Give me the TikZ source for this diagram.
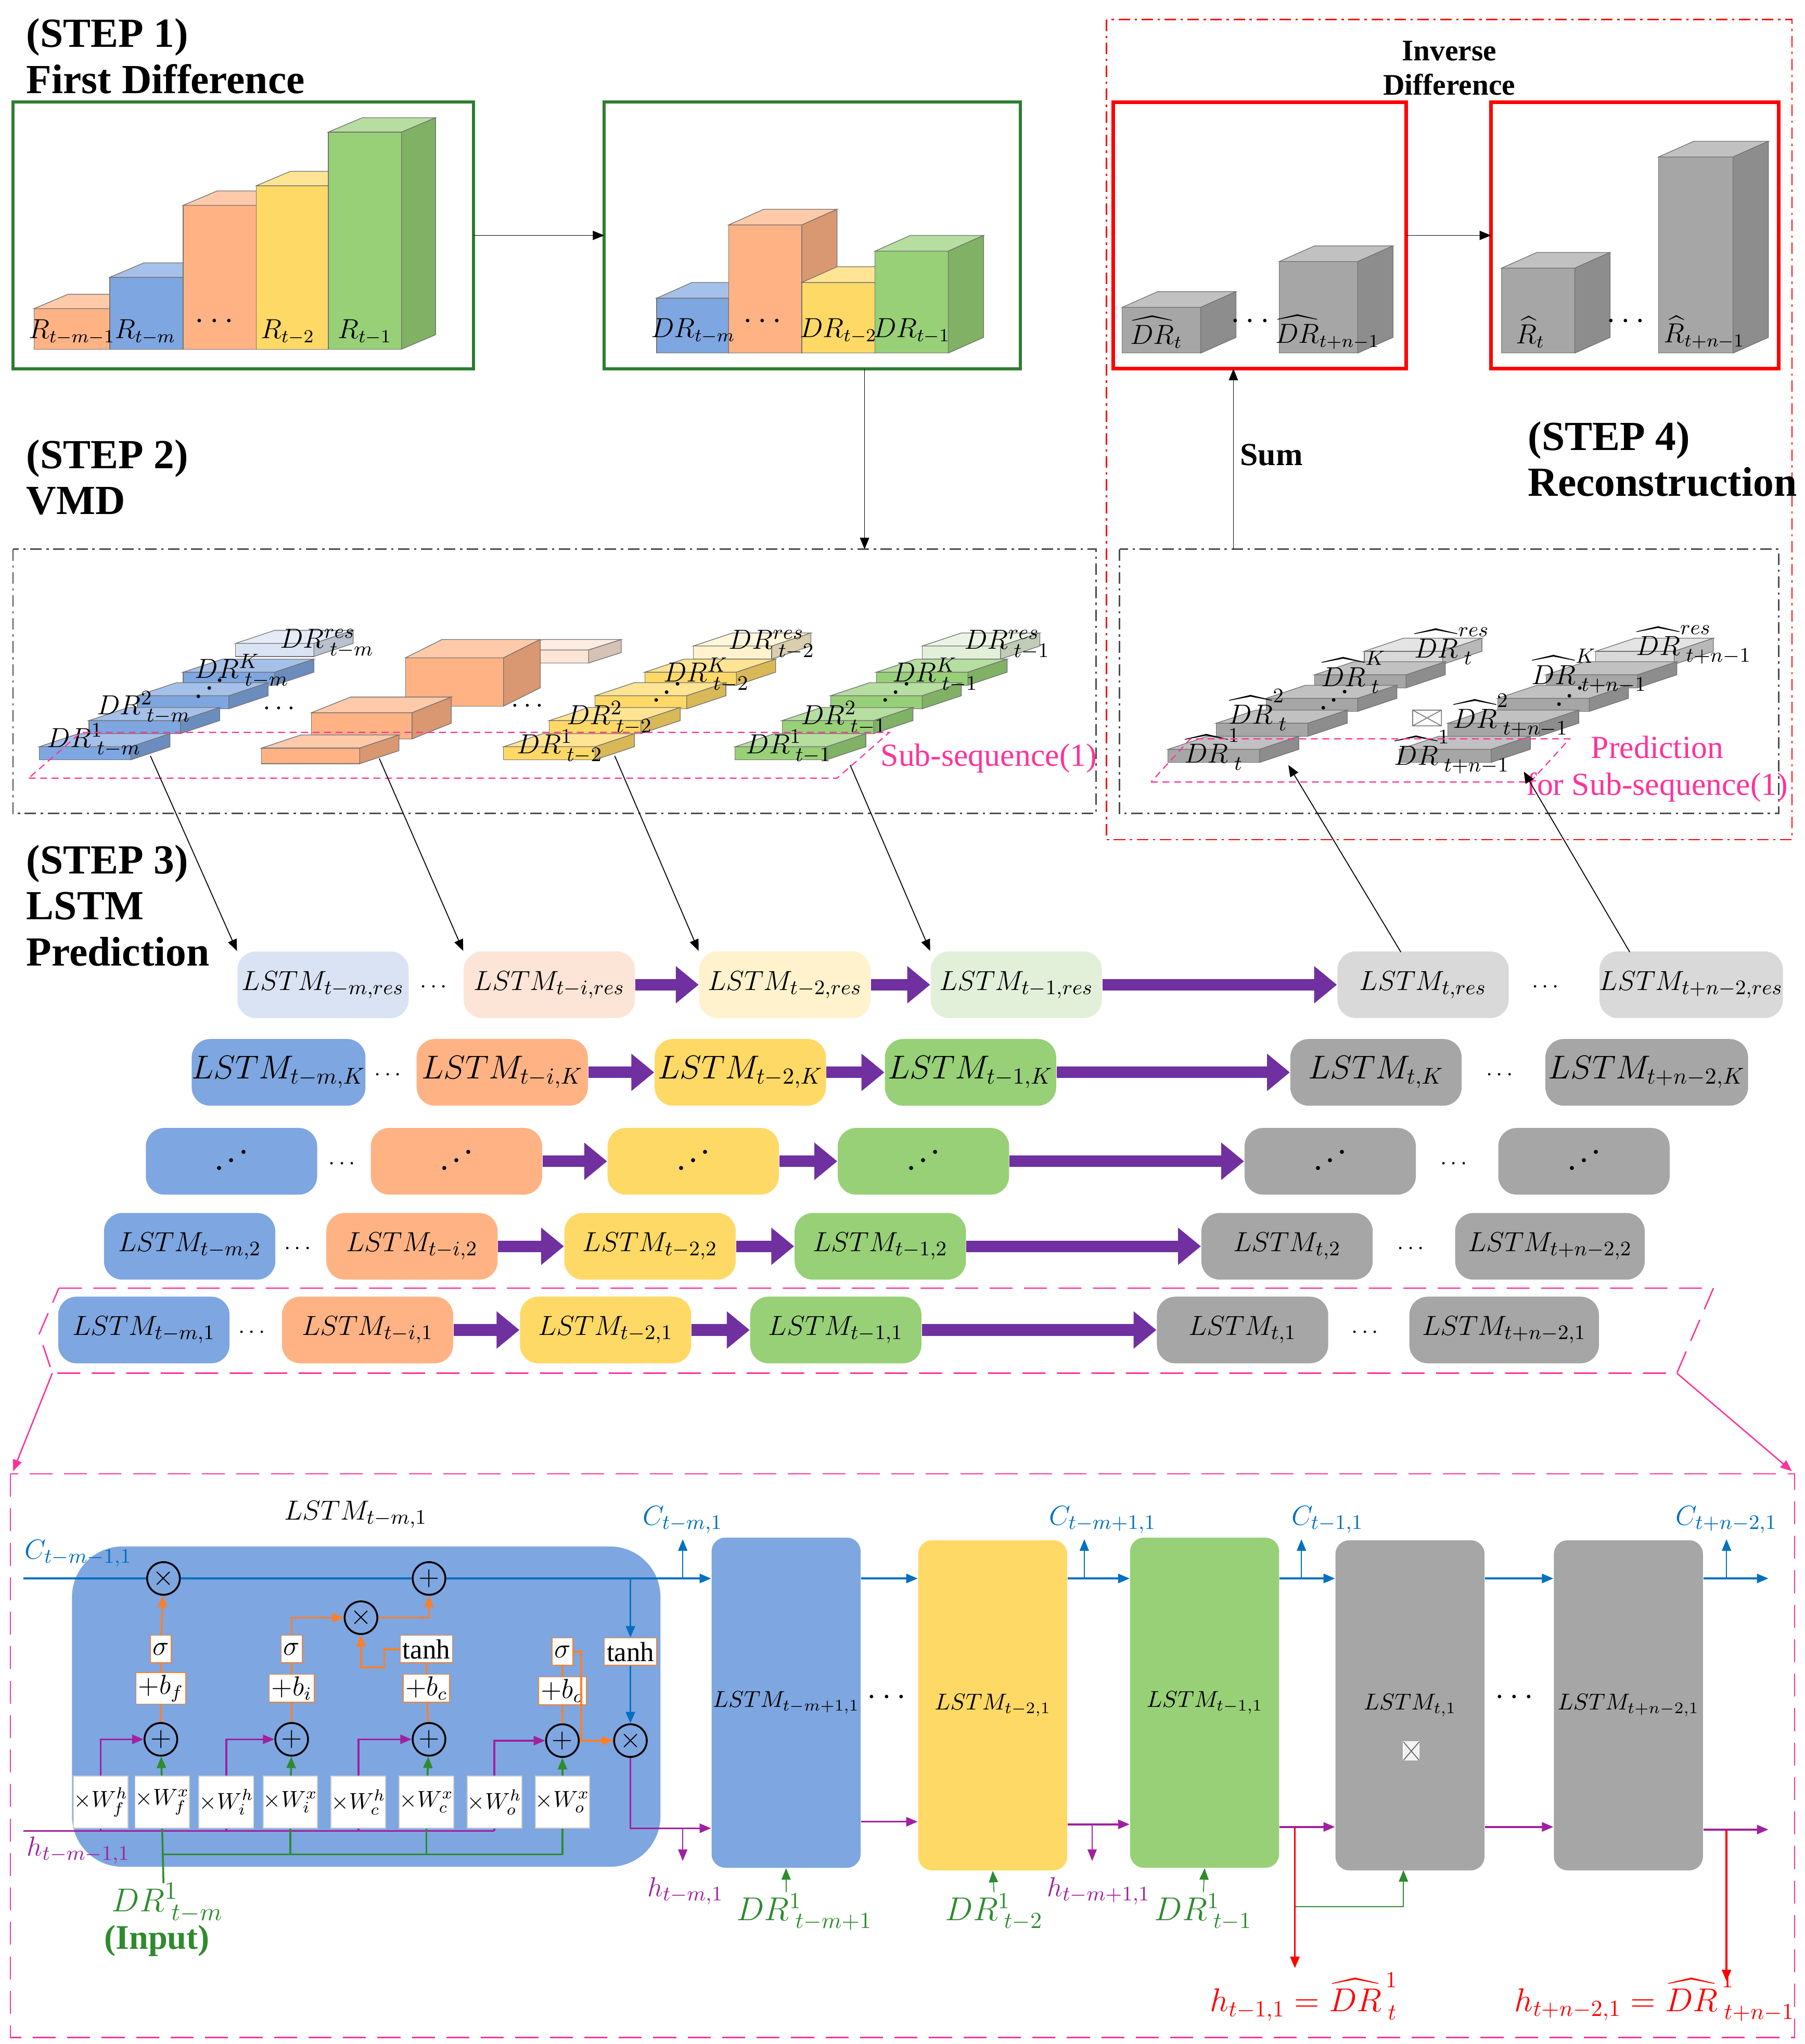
\documentclass[tikz,border=0pt]{standalone}
\usepackage{amsmath,amssymb}
\usepackage{fontspec}
\setmainfont{Liberation Serif}
\usetikzlibrary{arrows.meta}
\definecolor{cBl}{HTML}{7EA6E0}
\definecolor{cOr}{HTML}{FFB385}
\definecolor{cYe}{HTML}{FFD966}
\definecolor{cGr}{HTML}{97D077}
\definecolor{cGy}{HTML}{A6A6A6}
\definecolor{cBlL}{HTML}{DAE3F3}
\definecolor{cOrL}{HTML}{FCE4D6}
\definecolor{cYeL}{HTML}{FFF2CC}
\definecolor{cGrL}{HTML}{E2F0D9}
\definecolor{cGyL}{HTML}{D9D9D9}
\definecolor{cPu}{HTML}{7030A0}
\definecolor{cPk}{HTML}{FF3399}
\definecolor{cDG}{HTML}{2E7D32}
\definecolor{cCB}{HTML}{0070C0}
\definecolor{cHP}{HTML}{A020A0}
\definecolor{cOa}{HTML}{FF7F27}
\definecolor{cIG}{HTML}{2E8B2E}
\newcommand\myid{\mathinner{\mkern1mu\raise1pt\hbox{.}\mkern2mu\raise4.5pt\hbox{.}\mkern2mu\raise8pt\hbox{.}\mkern1mu}}
\newcommand\mycube[7]{%
 \path[fill=#7,draw=black!55,line width=0.3pt] (#1,#3) rectangle (#2,#4);
 \path[fill=#7!70!white,draw=black!55,line width=0.3pt] (#1,#3)--({#1+#5},{#3-#6})--({#2+#5},{#3-#6})--(#2,#3)--cycle;
 \path[fill=#7!85!black,draw=black!55,line width=0.3pt] (#2,#3)--({#2+#5},{#3-#6})--({#2+#5},{#4-#6})--(#2,#4)--cycle;}
\newcommand\myslab[4]{\mycube{#1}{#1+#3}{#2}{#2+10}{30}{10}{#4}}
\begin{document}
\begin{tikzpicture}[x=0.02cm,y=-0.02cm,
 stp/.style={anchor=north west,align=left,font=\fontsize{18}{20}\selectfont\bfseries},
 ddt/.style={dash pattern=on 5pt off 2pt on 1pt off 2pt,line width=0.6pt},
 lstm/.style={rounded corners=8pt,minimum width=2.62cm,minimum height=1.02cm,inner sep=0pt,font=\fontsize{13}{15}\selectfont},
 lstmK/.style={lstm,font=\fontsize{14.5}{17}\selectfont},
 parr/.style={draw=cPu,line width=5pt,-{Triangle[length=0.35cm,width=0.55cm]}},
 lab/.style={font=\fontsize{12}{14}\selectfont,inner sep=0pt},
 slab/.style={font=\fontsize{13}{15}\selectfont,inner sep=0pt},
 op/.style={circle,draw,line width=0.8pt,minimum size=0.5cm,inner sep=0pt,font=\large},
 sb/.style={draw=cOa,fill=white,inner sep=1pt,minimum height=0.42cm,font=\fontsize{12}{13}\selectfont},
 wb/.style={draw=white!80!black,fill=white,inner sep=0pt,minimum width=0.6cm,minimum height=0.8cm,font=\fontsize{10}{11}\selectfont},
 lcell/.style={rounded corners=6pt,minimum width=2.28cm,minimum height=5.05cm,inner sep=0pt,font=\fontsize{10}{12}\selectfont},
 ar/.style={-{Triangle[length=5pt,width=4pt]}}]
\useasboundingbox (0,0) rectangle (1380,1563);
% ---------- STEP 1
\node[stp] (s1) at (14,8) {(STEP 1)\\First Difference};
\draw[cDG,line width=1.4pt] (10,78) rectangle (362,282);
\coordinate (b1r) at (362,180);
\mycube{26}{84}{236}{267}{26}{11}{cOr}
\mycube{84}{140}{212}{267}{26}{11}{cBl}
\mycube{140}{196}{157}{267}{26}{11}{cOr}
\mycube{196}{251}{142}{267}{26}{11}{cYe}
\mycube{251}{307}{101}{267}{26}{11}{cGr}
\node[lab] at (55,254) {$R_{t-m-1}$};
\node[lab] at (111,254) {$R_{t-m}$};
\node[font=\Large] at (166,246) {$\cdots$};
\node[lab] at (220,254) {$R_{t-2}$};
\node[lab] at (279,254) {$R_{t-1}$};
\draw[cDG,line width=1.4pt] (462,78) rectangle (780,282);
\coordinate (b2l) at (462,180);
\coordinate (b2b) at (661,282);
\mycube{502}{557}{228}{270}{27}{12}{cBl}
\mycube{557}{613}{172}{270}{27}{12}{cOr}
\mycube{613}{669}{216}{270}{27}{12}{cYe}
\mycube{669}{725}{192}{270}{27}{12}{cGr}
\node[lab] at (530,253) {$DR_{t-m}$};
\node[font=\Large] at (585,246) {$\cdots$};
\node[lab] at (641,253) {$DR_{t-2}$};
\node[lab] at (697,253) {$DR_{t-1}$};
\draw[ar] (b1r) -- (b2l);
% ---------- STEP 4
\draw[red,ddt] (846,15) rectangle (1370,642);
\node[font=\fontsize{13}{15}\selectfont\bfseries,align=center] (inv) at (1108,52) {Inverse\\Difference};
\draw[red,line width=1.6pt] (851,78) rectangle (1075,282);
\draw[red,line width=1.6pt] (1140,78) rectangle (1360,282);
\coordinate (r1r) at (1075,180); \coordinate (r2l) at (1140,180);
\draw[ar] (r1r) -- (r2l);
\mycube{858}{918}{235}{270}{27}{12}{cGy}
\mycube{978}{1038}{200}{270}{27}{12}{cGy}
\mycube{1148}{1204}{205}{270}{27}{12}{cGy}
\mycube{1268}{1325}{120}{270}{27}{12}{cGy}
\node[lab] at (884,254) {$\widehat{DR}_t$};
\node[font=\Large] at (958,246) {$\cdots$};
\node[lab] at (1015,254) {$\widehat{DR}_{t+n-1}$};
\node[lab] at (1170,254) {$\widehat{R}_t$};
\node[font=\Large] at (1245,246) {$\cdots$};
\node[lab] at (1303,254) {$\widehat{R}_{t+n-1}$};
\node[stp] (s4) at (1162,316) {(STEP 4)\\Reconstruction};
\draw[ddt,black!70] (856,420) rectangle (1360,622);
\coordinate (sumb) at (943,420); \coordinate (sumt) at (943,282);
\draw[ar] (sumb) -- (sumt);
\node[font=\fontsize{14}{16}\selectfont\bfseries] (sum) at (972,348) {Sum};
% ---------- STEP 2
\node[stp] (s2) at (14,330) {(STEP 2)\\VMD};
\draw[ddt,black!70] (10,420) rectangle (838,622);
\coordinate (vt) at (661,420);
\draw[ar] (b2b) -- (vt);
% blue
\myslab{180}{492}{60}{cBlL}
\myslab{140}{514}{70}{cBl}
\myslab{105}{532}{70}{cBl}
\myslab{68}{551}{70}{cBl}
\myslab{30}{571}{70}{cBl}
% orange
\mycube{390}{450}{497}{507}{25}{8}{cOrL}
\mycube{310}{385}{503}{540}{28}{14}{cOr}
\mycube{238}{315}{545}{565}{30}{12}{cOr}
\mycube{200}{275}{572}{584}{30}{10}{cOr}
% yellow
\myslab{530}{494}{60}{cYeL}
\myslab{493}{514}{70}{cYe}
\myslab{455}{532}{70}{cYe}
\myslab{420}{551}{70}{cYe}
\myslab{385}{571}{70}{cYe}
% green
\myslab{705}{494}{60}{cGrL}
\myslab{670}{514}{70}{cGr}
\myslab{635}{532}{70}{cGr}
\myslab{598}{551}{70}{cGr}
\myslab{562}{571}{70}{cGr}
% gray
\myslab{1043}{498}{60}{cGyL}
\myslab{1005}{516}{70}{cGy}
\myslab{968}{534}{70}{cGy}
\myslab{930}{553}{70}{cGy}
\myslab{893}{573}{70}{cGy}
\myslab{1220}{498}{60}{cGyL}
\myslab{1182}{516}{70}{cGy}
\myslab{1145}{534}{70}{cGy}
\myslab{1107}{553}{70}{cGy}
\myslab{1070}{573}{70}{cGy}
\draw[black!50] (1080,543) rectangle (1102,555) (1080,543)--(1102,555) (1080,555)--(1102,543);
% VMD labels
\node[slab] at (72,566) {$DR^{1}_{\;t-m}$};
\node[slab] at (110,541) {$DR^{2}_{\;t-m}$};
\node[slab] at (160,527) {$\myid$};
\node[slab] at (185,513) {$DR^{K}_{\;t-m}$};
\node[slab] at (250,492) {$DR^{res}_{\;t-m}$};
\node[font=\large] at (215,542) {$\cdots$};
\node[font=\large] at (405,540) {$\cdots$};
\node[slab] at (428,571) {$DR^{1}_{\;t-2}$};
\node[slab] at (466,549) {$DR^{2}_{\;t-2}$};
\node[slab] at (510,530) {$\myid$};
\node[slab] at (540,516) {$DR^{K}_{\;t-2}$};
\node[slab] at (590,493) {$DR^{res}_{\;t-2}$};
\node[slab] at (603,571) {$DR^{1}_{\;t-1}$};
\node[slab] at (645,549) {$DR^{2}_{\;t-1}$};
\node[slab] at (685,530) {$\myid$};
\node[slab] at (715,516) {$DR^{K}_{\;t-1}$};
\node[slab] at (770,493) {$DR^{res}_{\;t-1}$};
\node[slab] at (928,573) {$\widehat{DR}^{1}_{\;t}$};
\node[slab] at (962,543) {$\widehat{DR}^{2}_{\;t}$};
\node[slab] at (1020,536) {$\myid$};
\node[slab] at (1035,514) {$\widehat{DR}^{K}_{\;t}$};
\node[slab] at (1110,494) {$\widehat{DR}^{res}_{\;t}$};
\node[slab] at (1110,575) {$\widehat{DR}^{1}_{\;t+n-1}$};
\node[slab] at (1155,547) {$\widehat{DR}^{2}_{\;t+n-1}$};
\node[slab] at (1200,533) {$\myid$};
\node[slab] at (1215,513) {$\widehat{DR}^{K}_{\;t+n-1}$};
\node[slab] at (1295,493) {$\widehat{DR}^{res}_{\;t+n-1}$};
\draw[cPk,densely dashed,line width=0.5pt] (22,595)--(640,595)--(680,560)--(62,560)--cycle;
\node[text=cPk,font=\fontsize{14}{16}\selectfont] (subs) at (756,580) {Sub-sequence(1)};
\draw[cPk,densely dashed,line width=0.5pt] (880,598)--(1170,598)--(1200,565)--(910,565)--cycle;
\node[text=cPk,font=\fontsize{14}{16}\selectfont,align=center] (pred) at (1267,588) {Prediction\\for Sub-sequence(1)};
% ---------- STEP 3
\node[stp] (s3) at (14,640) {(STEP 3)\\LSTM\\Prediction};
% row res
\node[lstm,fill=cBlL] (ra) at (247,753) {$LSTM_{t-m,res}$};
\node[lstm,fill=cOrL] (rb) at (420,753) {$LSTM_{t-i,res}$};
\node[lstm,fill=cYeL] (rc) at (600,753) {$LSTM_{t-2,res}$};
\node[lstm,fill=cGrL] (rd) at (777,753) {$LSTM_{t-1,res}$};
\node[lstm,fill=cGyL] (re) at (1088,753) {$LSTM_{t,res}$};
\node[lstm,fill=cGyL] (rf) at (1293,753) {$LSTM_{t+n-2,res}$};
\node at (333,755) {$\cdots$}; \node at (1183,755) {$\cdots$};
\draw[parr] (rb) -- (rc); \draw[parr] (rc) -- (rd); \draw[parr] (rd) -- (re);
% row K
\node[lstmK,fill=cBl] (ka) at (213,820) {$LSTM_{t-m,K}$};
\node[lstmK,fill=cOr] (kb) at (384,820) {$LSTM_{t-i,K}$};
\node[lstmK,fill=cYe] (kc) at (566,820) {$LSTM_{t-2,K}$};
\node[lstmK,fill=cGr] (kd) at (742,820) {$LSTM_{t-1,K}$};
\node[lstmK,fill=cGy] (ke) at (1052,820) {$LSTM_{t,K}$};
\node[lstmK,fill=cGy,minimum width=3.1cm] (kf) at (1259,820) {$LSTM_{t+n-2,K}$};
\node at (298,822) {$\cdots$}; \node at (1148,822) {$\cdots$};
\draw[parr] (kb) -- (kc); \draw[parr] (kc) -- (kd); \draw[parr] (kd) -- (ke);
% row dots
\node[lstmK,fill=cBl] (da) at (177,888) {$\myid$};
\node[lstmK,fill=cOr] (db) at (349,888) {$\myid$};
\node[lstmK,fill=cYe] (dc) at (530,888) {$\myid$};
\node[lstmK,fill=cGr] (dd) at (706,888) {$\myid$};
\node[lstmK,fill=cGy] (de) at (1017,888) {$\myid$};
\node[lstmK,fill=cGy] (df) at (1211,888) {$\myid$};
\node at (263,890) {$\cdots$}; \node at (1113,890) {$\cdots$};
\draw[parr] (db) -- (dc); \draw[parr] (dc) -- (dd); \draw[parr] (dd) -- (de);
% row 2
\node[lstm,fill=cBl] (ta) at (145,953) {$LSTM_{t-m,2}$};
\node[lstm,fill=cOr] (tb) at (315,953) {$LSTM_{t-i,2}$};
\node[lstm,fill=cYe] (tc) at (497,953) {$LSTM_{t-2,2}$};
\node[lstm,fill=cGr] (td) at (673,953) {$LSTM_{t-1,2}$};
\node[lstm,fill=cGy] (te) at (984,953) {$LSTM_{t,2}$};
\node[lstm,fill=cGy,minimum width=2.9cm] (tf) at (1185,953) {$LSTM_{t+n-2,2}$};
\node at (229,955) {$\cdots$}; \node at (1080,955) {$\cdots$};
\draw[parr] (tb) -- (tc); \draw[parr] (tc) -- (td); \draw[parr] (td) -- (te);
% row 1
\node[lstm,fill=cBl] (oa) at (110,1017) {$LSTM_{t-m,1}$};
\node[lstm,fill=cOr] (ob) at (281,1017) {$LSTM_{t-i,1}$};
\node[lstm,fill=cYe] (oc) at (463,1017) {$LSTM_{t-2,1}$};
\node[lstm,fill=cGr] (od) at (639,1017) {$LSTM_{t-1,1}$};
\node[lstm,fill=cGy] (oe) at (950,1017) {$LSTM_{t,1}$};
\node[lstm,fill=cGy,minimum width=2.9cm] (of) at (1150,1017) {$LSTM_{t+n-2,1}$};
\node at (194,1019) {$\cdots$}; \node at (1045,1019) {$\cdots$};
\draw[parr] (ob) -- (oc); \draw[parr] (oc) -- (od); \draw[parr] (od) -- (oe);
% VMD -> LSTM arrows
\coordinate (v1) at (115,578); \coordinate (v2) at (290,580);
\coordinate (v3) at (470,578); \coordinate (v4) at (650,585);
\coordinate (p1) at (985,585); \coordinate (p2) at (1165,590);
\coordinate (q1) at (1071,728); \coordinate (q2) at (1246,728);
\draw[ar] (v1) -- (ra.north west); \draw[ar] (v2) -- (rb.north west);
\draw[ar] (v3) -- (rc.north west); \draw[ar] (v4) -- (rd.north west);
\draw[ar] (q1) -- (p1);
\draw[ar] (q2) -- (p2);
% pink zoom frame
\draw[cPk,dash pattern=on 10pt off 5pt,line width=0.6pt] (45,985)--(1310,985)--(1282,1050)--(40,1050)--(30,1020)--cycle;
\draw[cPk,line width=0.6pt,ar] (40,1050)--(10,1125);
\draw[cPk,line width=0.6pt,ar] (1282,1050)--(1370,1125);
\draw[cPk,dash pattern=on 10pt off 5pt,line width=0.6pt] (8,1127) rectangle (1372,1558);
% ---------- bottom detail
\node[fill=cBl,rounded corners=22pt,minimum width=9.0cm,minimum height=4.9cm] (big) at (280,1305) {};
\node[font=\fontsize{13}{15}\selectfont] (bigl) at (272,1158) {$LSTM_{t-m,1}$};
\node[lcell,fill=cBl] (c2) at (601,1302) {$LSTM_{t-m+1,1}$};
\node[lcell,fill=cYe] (c3) at (759,1304) {$LSTM_{t-2,1}$};
\node[lcell,fill=cGr] (c4) at (921,1302) {$LSTM_{t-1,1}$};
\node[lcell,fill=cGy] (c5) at (1078,1304) {$LSTM_{t,1}$};
\node[lcell,fill=cGy] (c6) at (1245,1304) {$LSTM_{t+n-2,1}$};
\node[font=\Large] at (680,1298) {$\cdots$};
\node[font=\Large] at (1160,1298) {$\cdots$};
\draw[white,fill=white!90!gray] (1073,1332) rectangle (1085,1346);
\draw[black!60] (1073,1332)--(1085,1346) (1073,1346)--(1085,1332);
% cell internals
\node[op] (mf) at (125,1207) {$\times$};
\node[op] (pc) at (328,1207) {$+$};
\node[op] (mi) at (276,1237) {$\times$};
\node[sb] (sf) at (123,1261) {$\sigma$};
\node[sb] (si) at (223,1261) {$\sigma$};
\node[sb] (tc1) at (326,1261) {tanh};
\node[sb] (so) at (430,1263) {$\sigma$};
\node[sb] (th2) at (482,1263) {tanh};
\node[sb] (bf) at (123,1291) {$+b_f$};
\node[sb] (bi) at (223,1291) {$+b_i$};
\node[sb] (bc) at (326,1291) {$+b_c$};
\node[sb] (bo) at (430,1293) {$+b_o$};
\node[op] (af) at (123,1330) {$+$};
\node[op] (ai) at (223,1330) {$+$};
\node[op] (ac) at (328,1330) {$+$};
\node[op] (ao) at (430,1331) {$+$};
\node[op] (mo) at (482,1331) {$\times$};
\node[wb] (whf) at (77,1378) {$\times W_f^h$};
\node[wb] (wxf) at (124,1378) {$\times W_f^x$};
\node[wb] (whi) at (173,1378) {$\times W_i^h$};
\node[wb] (wxi) at (222,1378) {$\times W_i^x$};
\node[wb] (whc) at (274,1378) {$\times W_c^h$};
\node[wb] (wxc) at (326,1378) {$\times W_c^x$};
\node[wb] (who) at (378,1378) {$\times W_o^h$};
\node[wb] (wxo) at (430,1378) {$\times W_o^x$};
% C line
\coordinate (cin) at (18,1207);
\draw[cCB,line width=1pt] (cin) -- (mf) -- (pc);
\draw[cCB,line width=0.9pt,ar] (pc) -- (c2.west |- pc);
\draw[cCB,line width=0.8pt,ar] (482,1207) -- (th2);
\draw[cCB,line width=0.8pt,ar] (th2) -- (mo);
\draw[cCB,line width=0.8pt,ar] (c2.east |- pc) -- (c3.west |- pc);
\draw[cCB,line width=0.8pt,ar] (c3.east |- pc) -- (c4.west |- pc);
\draw[cCB,line width=0.8pt,ar] (c4.east |- pc) -- (c5.west |- pc);
\draw[cCB,line width=0.8pt,ar] (c5.east |- pc) -- (c6.west |- pc);
\draw[cCB,line width=0.8pt,ar] (c6.east |- pc) -- (1352,1207);
\coordinate (co1) at (522,1177); \coordinate (co2) at (829,1177);
\coordinate (co3) at (995,1177); \coordinate (co4) at (1320,1177);
\draw[cCB,ar] (522,1207) -- (co1); \draw[cCB,ar] (829,1207) -- (co2);
\draw[cCB,ar] (995,1207) -- (co3); \draw[cCB,ar] (1320,1207) -- (co4);
\node[text=cCB,font=\fontsize{13}{15}\selectfont] at (60,1188) {$C_{t-m-1,1}$};
\node[text=cCB,font=\fontsize{13}{15}\selectfont] at (522,1162) {$C_{t-m,1}$};
\node[text=cCB,font=\fontsize{13}{15}\selectfont] at (843,1162) {$C_{t-m+1,1}$};
\node[text=cCB,font=\fontsize{13}{15}\selectfont] at (1015,1162) {$C_{t-1,1}$};
\node[text=cCB,font=\fontsize{13}{15}\selectfont] at (1320,1162) {$C_{t+n-2,1}$};
% orange
\draw[cOa,line width=0.8pt] (af)--(bf) (bf)--(sf) (ai)--(bi) (bi)--(si) (ac)--(bc) (bc)--(tc1) (ao)--(bo) (bo)--(so);
\draw[cOa,line width=0.8pt,ar] (sf) -- (mf);
\draw[cOa,line width=0.8pt,ar] (si.north) |- (mi.west);
\draw[cOa,line width=0.8pt,ar] (tc1.west) -- ++(-12,0) |- ++(-15,14) -| (mi.south);
\draw[cOa,line width=0.8pt,ar] (mi.east) -| (pc.south);
\draw[cOa,line width=0.8pt,ar] (so.east) -- ++(6,0) |- (mo.west);
% purple h
\coordinate (hin) at (18,1400);
\draw[cHP,line width=0.8pt] (hin) -- (378,1400);
\draw[cHP,line width=0.8pt] (77,1400)--(whf.south) (173,1400)--(whi.south) (274,1400)--(whc.south) (378,1400)--(who.south);
\draw[cHP,line width=0.8pt,ar] (whf.north) |- (af.west);
\draw[cHP,line width=0.8pt,ar] (whi.north) |- (ai.west);
\draw[cHP,line width=0.8pt,ar] (whc.north) |- (ac.west);
\draw[cHP,line width=0.8pt,ar] (who.north) |- (ao.west);
\draw[cHP,line width=0.8pt,ar] (mo.south) |- (c2.west |- 0,1398);
\draw[cHP,line width=0.8pt,ar] (c2.east |- 0,1393) -- (c3.west |- 0,1393);
\draw[cHP,line width=0.8pt,ar] (c3.east |- 0,1395) -- (c4.west |- 0,1395);
\draw[cHP,line width=0.8pt,ar] (c4.east |- 0,1397) -- (c5.west |- 0,1397);
\draw[cHP,line width=0.8pt,ar] (c5.east |- 0,1397) -- (c6.west |- 0,1397);
\draw[cHP,line width=0.8pt,ar] (c6.east |- 0,1399) -- (1352,1399);
\coordinate (ho1) at (522,1423); \coordinate (ho2) at (835,1423);
\draw[cHP,ar] (522,1398) -- (ho1); \draw[cHP,ar] (835,1395) -- (ho2);
\node[text=cHP,font=\fontsize{13}{15}\selectfont] at (60,1415) {$h_{t-m-1,1}$};
\node[text=cHP,font=\fontsize{13}{15}\selectfont] at (524,1446) {$h_{t-m,1}$};
\node[text=cHP,font=\fontsize{13}{15}\selectfont] at (840,1446) {$h_{t-m+1,1}$};
% green inputs
\node[text=cIG,font=\fontsize{15}{17}\selectfont] (in1) at (128,1455) {$DR^{1}_{\;t-m}$};
\node[text=cIG,font=\fontsize{15}{17}\selectfont\bfseries] (inl) at (120,1484) {(Input)};
\draw[cIG,line width=0.8pt] (125,1440) -- (wxf.south);
\draw[cIG,line width=0.8pt] (125,1418) -- (430,1418);
\draw[cIG,line width=0.8pt] (222,1418)--(wxi.south) (326,1418)--(wxc.south) (430,1418)--(wxo.south);
\draw[cIG,line width=0.8pt,ar] (wxf) -- (af); \draw[cIG,line width=0.8pt,ar] (wxi) -- (ai);
\draw[cIG,line width=0.8pt,ar] (wxc) -- (ac); \draw[cIG,line width=0.8pt,ar] (wxo) -- (ao);
\node[text=cIG,font=\fontsize{14}{16}\selectfont] (in2) at (615,1462) {$DR^{1}_{\;t-m+1}$};
\node[text=cIG,font=\fontsize{14}{16}\selectfont] (in3) at (760,1462) {$DR^{1}_{\;t-2}$};
\node[text=cIG,font=\fontsize{14}{16}\selectfont] (in4) at (920,1462) {$DR^{1}_{\;t-1}$};
\draw[cIG,ar] (601,1447) -- (c2.south); \draw[cIG,ar] (760,1447) -- (c3.south);
\draw[cIG,ar] (920,1447) -- (c4.south);
\coordinate (gin) at (1073,1430);
\draw[cIG,ar] (990,1397) -- (990,1458) -| (gin);
% red outputs
\coordinate (ro1) at (990,1505); \coordinate (ro2) at (1320,1515);
\draw[red,line width=0.8pt,ar] (990,1397) -- (ro1);
\draw[red,line width=0.8pt,ar] (1320,1399) -- (ro2);
\node[text=red,font=\fontsize{14}{16}\selectfont] at (997,1527) {$h_{t-1,1}=\widehat{DR}^{\,1}_{\;t}$};
\node[text=red,font=\fontsize{14}{16}\selectfont] at (1265,1527) {$h_{t+n-2,1}=\widehat{DR}^{\,1}_{\;t+n-1}$};
\end{tikzpicture}
\end{document}
